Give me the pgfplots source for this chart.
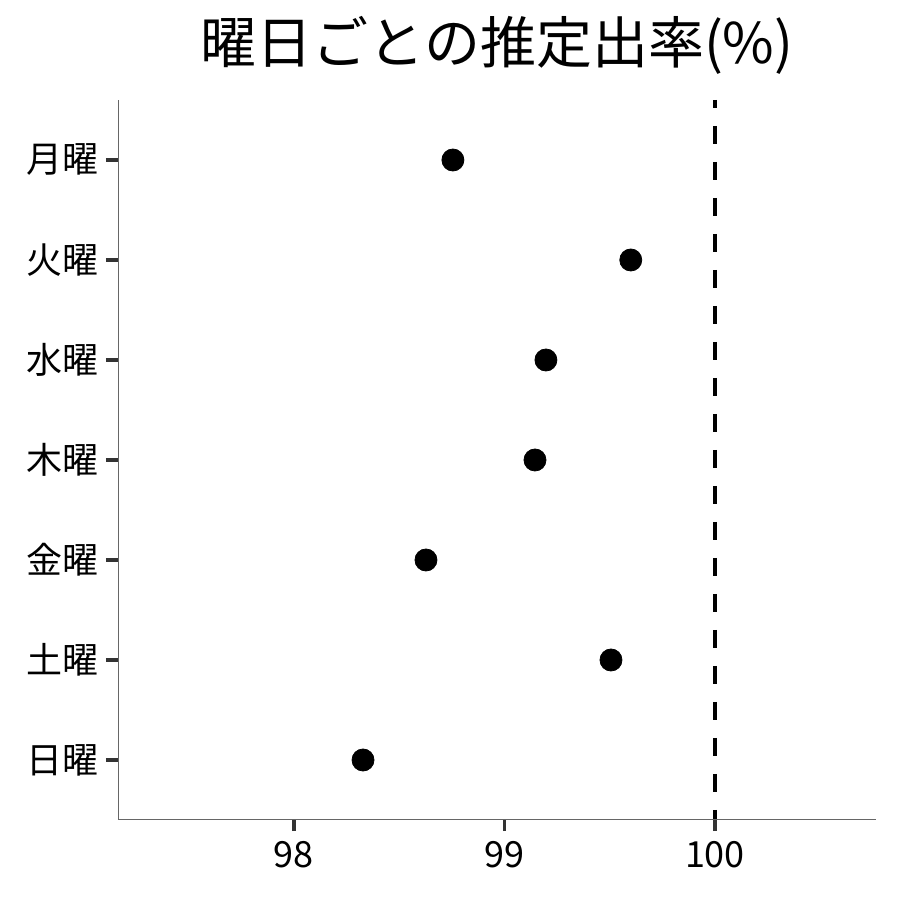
\documentclass[border=0pt]{standalone}
\usepackage{fontspec}
\setmainfont{Noto Sans CJK JP}
\usepackage{pgfplots}
\pgfplotsset{compat=1.18}

\begin{document}
\begin{tikzpicture}
\useasboundingbox (-59bp,-40.5bp) rectangle (391bp,409.5bp);
\begin{axis}[
    name=ax,
    scale only axis,
    width=379bp, height=359.5bp,
    xmin=97.164, xmax=100.765,
    ymin=0.41, ymax=7.6,
    axis x line*=bottom,
    axis y line*=left,
    axis line style={black!60, -},
    xtick={98,99,100},
    ytick={1,2,3,4,5,6,7},
    yticklabels={日曜,土曜,金曜,木曜,水曜,火曜,月曜},
    tick align=outside,
    major tick length=6bp,
    every tick/.append style={black!80, line width=1.6bp},
    ticklabel style={font=\fontsize{18bp}{20bp}\selectfont, black},
    xticklabel style={yshift=-1.5bp},
    /pgf/number format/assume math mode=true,
    clip=false,
    ]
\addplot[black, line width=2bp, dash pattern=on 9bp off 9bp, dash phase=5bp] coordinates {(100,7.6) (100,0.41)};
\addplot[only marks, mark=*, mark size=5.5bp, black] coordinates {
    (98.755,7)
    (99.600,6)
    (99.197,5)
    (99.145,4)
    (98.627,3)
    (99.506,2)
    (98.328,1)
};
\end{axis}
\node[font=\fontsize{28bp}{31bp}\selectfont, anchor=center] at ([yshift=27.5bp]ax.north) {曜日ごとの推定出率(\%)};
\end{tikzpicture}
\end{document}
